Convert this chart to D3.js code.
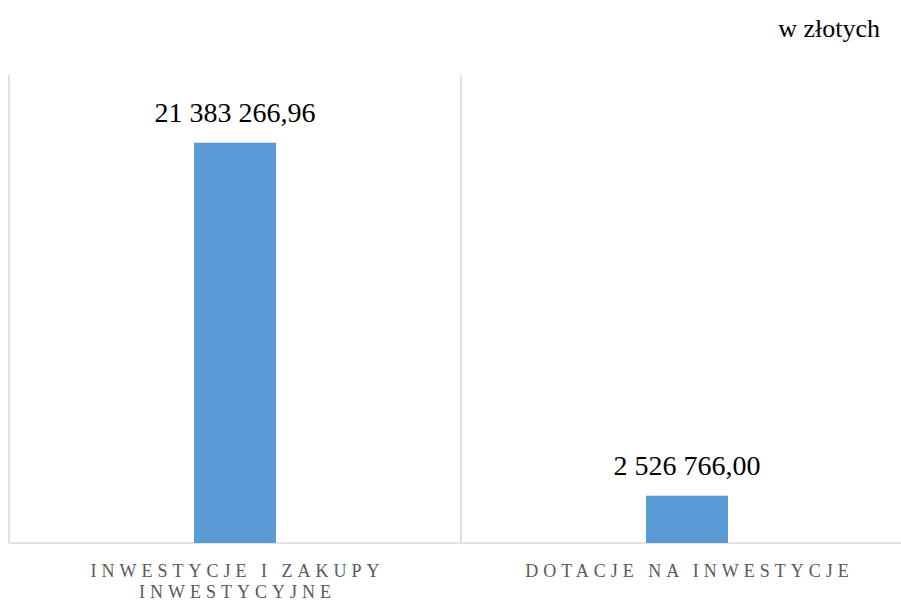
<!DOCTYPE html>
<html>
<head>
<meta charset="utf-8">
<script src="https://cdn.jsdelivr.net/npm/d3@7"></script>
</head>
<body style="margin:0">
<svg id="chart" width="901" height="603" style="display:block"></svg>
<script>
// chart data
const categories = ['INWESTYCJE I ZAKUPY INWESTYCYJNE', 'DOTACJE NA INWESTYCJE'];
const categoryLines = [['INWESTYCJE I ZAKUPY', 'INWESTYCYJNE'], ['DOTACJE NA INWESTYCJE']];
const values = [21383266.96, 2526766.00];
const valueLabels = ['21 383 266,96', '2 526 766,00'];
const unitLabel = 'w złotych';

const FONT = 'Liberation Serif';
const svg = d3.select('#chart');
const m = { left: 9, right: -12, top: 75, bottom: 60 };
const W = 901, H = 603;

const x = d3.scaleBand().domain(categories).range([m.left, W - m.right]).paddingInner(0).paddingOuter(0);
const y = d3.scaleLinear().domain([0, 25000000]).range([H - m.bottom, m.top]);

const grid = '#d9d9d9';

// vertical category dividers
const edges = [m.left, ...categories.map(c => x(c) + x.bandwidth())];
svg.append('g').selectAll('line').data(edges).join('line')
  .attr('x1', d => d).attr('x2', d => d)
  .attr('y1', y.range()[1]).attr('y2', y(0))
  .attr('stroke', grid).attr('stroke-width', 1.6);

// baseline
svg.append('line')
  .attr('x1', m.left).attr('x2', W - m.right)
  .attr('y1', y(0)).attr('y2', y(0))
  .attr('stroke', grid).attr('stroke-width', 1.6);

// bars
const barW = 82;
svg.append('g').selectAll('rect').data(values).join('rect')
  .attr('x', (d, i) => x(categories[i]) + x.bandwidth() / 2 - barW / 2)
  .attr('y', d => y(d))
  .attr('width', barW)
  .attr('height', d => y(0) - y(d))
  .attr('fill', '#5b9bd5');

// value labels
svg.append('g').selectAll('text').data(values).join('text')
  .attr('x', (d, i) => x(categories[i]) + x.bandwidth() / 2)
  .attr('y', d => y(d) - 21)
  .attr('text-anchor', 'middle')
  .style('font-family', FONT)
  .style('font-size', '28px')
  .attr('fill', '#000')
  .text((d, i) => valueLabels[i]);

// category labels
const cat = svg.append('g').selectAll('text').data(categories).join('text')
  .attr('text-anchor', 'middle')
  .style('font-family', FONT)
  .style('font-size', '18px')
  .style('letter-spacing', '5px')
  .attr('fill', '#595959');
cat.each(function (c, i) {
  const cx = x(c) + x.bandwidth() / 2 + 2.5;
  d3.select(this).selectAll('tspan').data(categoryLines[i]).join('tspan')
    .attr('x', cx)
    .attr('y', (d, j) => 577 + j * 21)
    .text(d => d);
});

// unit label
svg.append('text')
  .attr('x', 880).attr('y', 37)
  .attr('text-anchor', 'end')
  .style('font-family', FONT)
  .style('font-size', '26px')
  .attr('fill', '#000')
  .text(unitLabel);
</script>
</body>
</html>
